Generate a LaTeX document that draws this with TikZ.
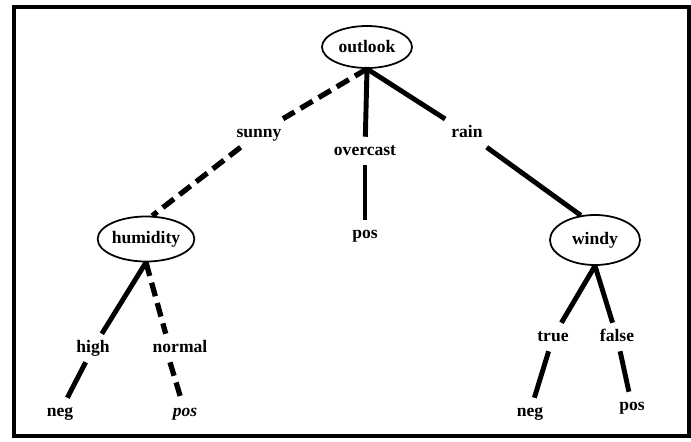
\documentclass[tikz,border=0pt]{standalone}
\usepackage{fontspec}
\setmainfont{Liberation Serif}
\usepackage{tikz}
\usetikzlibrary{shapes,positioning}

\begin{document}
\begin{tikzpicture}[
    attr/.style={ellipse,draw,line width=1pt,minimum width=1.8cm,minimum height=0.9cm,inner sep=0pt,font=\bfseries},
    val/.style={font=\bfseries,text height=1.5ex,text depth=0.5ex},
    branch/.style={line width=2.8pt},
    chosen/.style={line width=3pt,dash pattern=on 8pt off 4pt}
]
    \useasboundingbox (0,0) rectangle (13.82,8.82);
    \draw[line width=2pt] (0.28,0.1) rectangle (13.78,8.68);

    \node[attr,minimum height=0.84cm] (outlook) at (7.34,7.88) {outlook};
    \node[val] (sunny) at (5.18,6.16) {sunny};
    \node[val] (overcast) at (7.30,5.80) {overcast};
    \node[val] (rain) at (9.34,6.16) {rain};

    \node[attr] (humidity) at (2.92,4.04) {humidity};
    \node[val] (posmid) at (7.30,4.14) {pos};
    \node[attr,minimum height=1cm] (windy) at (11.90,4.02) {windy};

    \node[val] (high) at (1.86,1.86) {high};
    \node[val] (normal) at (3.60,1.86) {normal};
    \node[val] (true) at (11.06,2.08) {true};
    \node[val] (false) at (12.34,2.08) {false};

    \node[val] (negleft) at (1.20,0.58) {neg};
    \node[val,font=\bfseries\itshape] (posleft) at (3.70,0.58) {pos};
    \node[val] (negright) at (10.60,0.58) {neg};
    \node[val] (posright) at (12.64,0.70) {pos};

    \draw[chosen] (outlook.south) -- (sunny);
    \draw[chosen] (sunny) -- (humidity.75);
    \draw[branch] (outlook.south) -- (overcast);
    \draw[branch] (overcast) -- (posmid);
    \draw[branch] (outlook.south) -- (rain);
    \draw[branch] (rain) -- (windy.120);

    \draw[branch] (humidity.south) -- (high);
    \draw[branch] (high) -- (negleft);
    \draw[chosen] (humidity.south) -- (normal.135);
    \draw[chosen] (normal.235) -- (posleft);

    \draw[branch] (windy.south) -- (true);
    \draw[branch] (true) -- (negright);
    \draw[branch] (windy.south) -- (false);
    \draw[branch] (false) -- (posright);
\end{tikzpicture}
\end{document}
